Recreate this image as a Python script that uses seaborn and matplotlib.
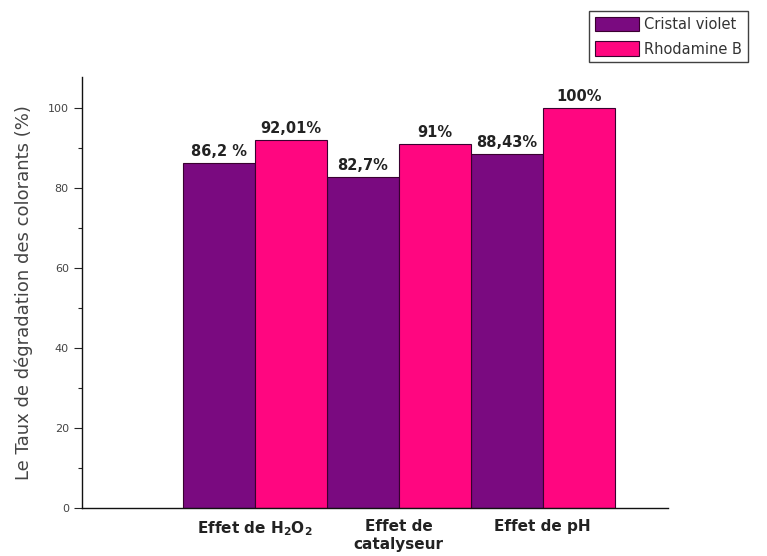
import matplotlib
matplotlib.use("Agg")
import matplotlib.pyplot as plt
from matplotlib.ticker import MultipleLocator
import seaborn as sns
import pandas as pd

# Degradation rates (%) for each experiment and dye
effects = ["Effet de H$_\\mathbf{2}$O$_\\mathbf{2}$", "Effet de\ncatalyseur", "Effet de pH"]
dyes = ["Cristal violet", "Rhodamine B"]
cristal_violet = [86.2, 82.7, 88.43]
rhodamine_b = [92.01, 91.0, 100.0]
labels_cv = ["86,2 %", "82,7%", "88,43%"]
labels_rb = ["92,01%", "91%", "100%"]

df = pd.DataFrame({
    "effet": effects * 2,
    "colorant": [dyes[0]] * 3 + [dyes[1]] * 3,
    "taux": cristal_violet + rhodamine_b,
})

sns.set_theme(style="ticks")
plt.rcParams["font.family"] = ["DejaVu Sans"]

fig = plt.figure(figsize=(7.67, 5.56), dpi=100)
ax = fig.add_axes([0.107, 0.0863, 0.764, 0.7752])

palette = {dyes[0]: "#7a0a80", dyes[1]: "#ff0680"}
sns.barplot(data=df, x="effet", y="taux", hue="colorant", order=effects,
            hue_order=dyes, palette=palette, width=1.0, saturation=1,
            edgecolor="#3a0030", linewidth=0.8, errorbar=None, ax=ax)

for cont, labs in zip(ax.containers, [labels_cv, labels_rb]):
    ax.bar_label(cont, labels=labs, padding=3, fontsize=10.5,
                 fontweight="bold", color="#222222")

ax.set_xlim(-1.2, 2.87)
ax.set_ylim(0, 107.75)
ax.yaxis.set_major_locator(MultipleLocator(20))
ax.yaxis.set_minor_locator(MultipleLocator(10))
ax.tick_params(axis="y", which="major", length=6, width=0.8, labelsize=8,
               labelcolor="#444444", direction="out")
ax.tick_params(axis="y", which="minor", length=3, width=0.8, direction="out")
ax.tick_params(axis="x", length=0, labelsize=11, pad=8)
for t in ax.get_xticklabels():
    t.set_fontweight("bold")
    t.set_color("#222222")

ax.set_xlabel("")
ax.set_ylabel("Le Taux de dégradation des colorants (%)", fontsize=13,
              color="#444444", labelpad=11)
sns.despine(ax=ax)
for s in ("left", "bottom"):
    ax.spines[s].set_color("#111111")
    ax.spines[s].set_linewidth(1.0)

ax.legend_.remove()
handles, lbls = ax.get_legend_handles_labels()
leg = fig.legend(handles, lbls, loc="upper left",
                 bbox_to_anchor=(589 / 767, 1 - 11 / 556),
                 frameon=True, fancybox=False, edgecolor="#111111",
                 fontsize=10.5, handlelength=3.0, handleheight=1.15,
                 handletextpad=0.4, borderpad=0.4, labelspacing=0.65,
                 borderaxespad=0)
leg.get_frame().set_linewidth(1.0)
for t in leg.get_texts():
    t.set_color("#333333")

fig.savefig("out.png", dpi=100)
